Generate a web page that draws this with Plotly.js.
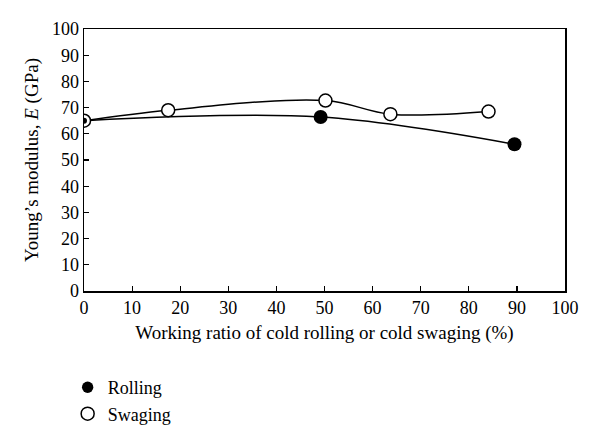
<!DOCTYPE html>
<html>
<head>
<meta charset="utf-8">
<script src="https://cdn.plot.ly/plotly-3.0.1.min.js"></script>
<style>html,body{margin:0;padding:0;background:#fff;}#chart{width:600px;height:443px;}</style>
</head>
<body>
<div id="chart"></div>
<script>
const rollingX = [0, 49.2, 89.5];
const rollingY = [65.0, 66.4, 56.0];
const swagingX = [0, 17.5, 50.2, 63.7, 84.1];
const swagingY = [65.0, 69.0, 72.7, 67.5, 68.5];
const xTicks = [0,10,20,30,40,50,60,70,80,90,100];
const yTicks = [0,10,20,30,40,50,60,70,80,90,100];

const FONT = "'Liberation Serif', 'DejaVu Serif', serif";

const traces = [
  {x: swagingX, y: swagingY, mode: 'lines', line: {shape: 'spline', smoothing: 1, color: '#000', width: 1.5}, showlegend: false, hoverinfo: 'skip'},
  {x: rollingX, y: rollingY, mode: 'lines', line: {shape: 'spline', smoothing: 1, color: '#000', width: 1.5}, showlegend: false, hoverinfo: 'skip'},
  {x: swagingX, y: swagingY, mode: 'markers', name: 'Swaging', legendrank: 2,
   marker: {symbol: 'circle', size: 13, color: '#fff', opacity: 1, line: {color: '#000', width: 1.5}}},
  {x: rollingX, y: rollingY, mode: 'markers', name: 'Rolling', legendrank: 1,
   marker: {symbol: 'circle', size: rollingX.map((v, i) => i === 0 ? 6 : 14), sizemode: 'diameter', opacity: 1, color: '#000', line: {color: '#000', width: 0}}}
];

const layout = {
  width: 600, height: 443,
  margin: {l: 84, r: 35, t: 29, b: 152, autoexpand: false},
  paper_bgcolor: '#fff', plot_bgcolor: '#fff',
  font: {family: FONT, size: 18, color: '#000'},
  showlegend: true,
  legend: {x: -0.034, y: -0.298, xanchor: 'left', yanchor: 'top', bgcolor: 'rgba(0,0,0,0)',
           font: {family: FONT, size: 18, color: '#000'}, itemwidth: 30, tracegroupgap: 0},
  xaxis: {range: [0, 100], tickvals: xTicks, ticktext: xTicks.map(String), ticks: 'inside', ticklen: 5, tickwidth: 1.2, tickcolor: '#000',
          showline: true, linecolor: '#000', linewidth: 1.5, mirror: true, showgrid: false, zeroline: false,
          title: {text: 'Working ratio of cold rolling or cold swaging (%)', font: {family: FONT, size: 19}, standoff: 8},
          tickfont: {family: FONT, size: 18}},
  yaxis: {range: [0, 100], tickvals: yTicks, ticktext: yTicks.map(String), ticks: 'inside', ticklen: 5, tickwidth: 1.2, tickcolor: '#000',
          showline: true, linecolor: '#000', linewidth: 1.5, mirror: true, showgrid: false, zeroline: false,
          title: {text: 'Young’s modulus, <i>E</i> (GPa)', font: {family: FONT, size: 19}, standoff: 8},
          tickfont: {family: FONT, size: 18}}
};

Plotly.newPlot('chart', traces, layout, {displayModeBar: false, staticPlot: true});
</script>
</body>
</html>
